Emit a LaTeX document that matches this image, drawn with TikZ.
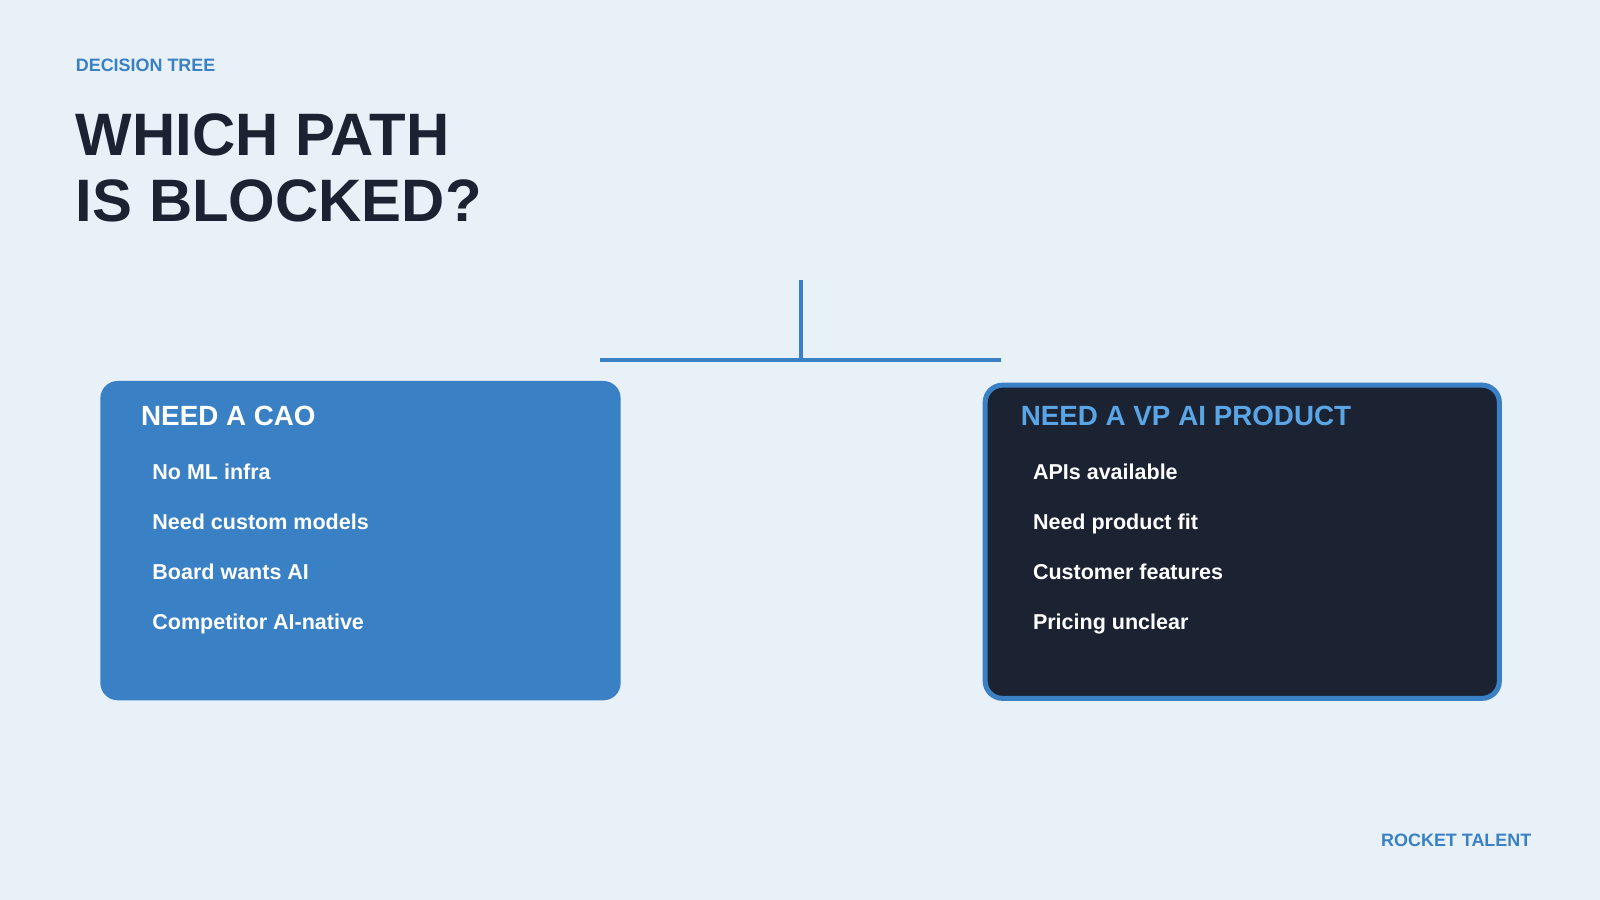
\documentclass[tikz,border=0pt]{standalone}
\usepackage{fontspec}
\setmainfont{Liberation Sans}
\usetikzlibrary{positioning}
\definecolor{bgblue}{HTML}{E8F0F8}
\definecolor{accent}{HTML}{3A80C4}
\definecolor{ink}{HTML}{1B2333}
\definecolor{lightacc}{HTML}{5AA5E6}
\begin{document}
\begin{tikzpicture}[x=0.02cm, y=-0.02cm,
    box/.style={rounded corners=0.34cm, minimum width=10.2cm, minimum height=6.26cm},
    boxtitle/.style={anchor=base west, inner sep=0pt, font=\bfseries\fontsize{15.5}{17}\selectfont},
    item/.style={anchor=base west, inner sep=0pt, text=white, font=\bfseries\fontsize{12}{14}\selectfont},
    tag/.style={text=accent, inner sep=0pt, font=\bfseries\fontsize{10}{12}\selectfont},
    link/.style={draw=accent, line width=2.3pt}
]
    \fill[bgblue] (0,0) rectangle (1568,882);
    \useasboundingbox (0,0) rectangle (1568,882);
    \node[tag, anchor=base west] (kicker) at (74,70) {DECISION TREE};
    \node[anchor=base west, text=ink, align=left, inner sep=0pt,
        font=\bfseries\fontsize{33.4}{36.5}\selectfont] (title) at (74,217) {WHICH PATH\\IS BLOCKED?};
    % tree connector
    \coordinate (root) at (785,274);
    \coordinate (fork) at (785,353);
    \coordinate (forkl) at (588,353);
    \coordinate (forkr) at (981,353);
    \draw[link] (root) -- (fork);
    \draw[link] (forkl) -- (forkr);
    % left option
    \node[box, fill=accent, anchor=north west] (cao) at (98,373) {};
    \node[boxtitle, text=white] (caotitle) at (138,417) {NEED A CAO};
    \foreach \t [count=\i] in {No ML infra, Need custom models, Board wants AI, Competitor AI-native}
        \node[item] (cao\i) at (149,421+49*\i) {\t};
    % right option
    \node[box, fill=ink, draw=accent, line width=2.8pt, anchor=north west,
        minimum width=10.08cm, minimum height=6.14cm] (vp) at (963,375) {};
    \node[boxtitle, text=lightacc] (vptitle) at (1000,417) {NEED A VP AI PRODUCT};
    \foreach \t [count=\i] in {APIs available, Need product fit, Customer features, Pricing unclear}
        \node[item] (vp\i) at (1012,421+49*\i) {\t};
    \node[tag, anchor=base east] (brand) at (1501,830) {ROCKET TALENT};
\end{tikzpicture}
\end{document}
